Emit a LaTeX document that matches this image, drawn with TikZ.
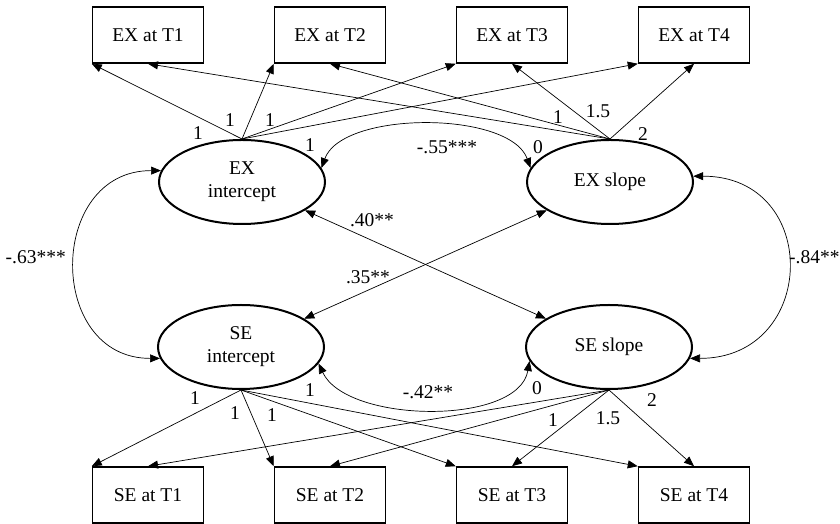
\documentclass[tikz,border=0pt]{standalone}
\usepackage{fontspec}
\setmainfont{Liberation Serif}
\usetikzlibrary{arrows.meta,shapes.geometric}
\tikzset{
  obs/.style={draw,line width=1.5pt,minimum width=111pt,minimum height=56pt,inner sep=0pt},
  latent/.style={draw,ellipse,line width=2pt,minimum width=166pt,minimum height=84pt,inner sep=0pt,align=center},
  load/.style={-{Triangle[length=10pt,width=8pt]},line width=0.7pt},
  cov/.style={{Triangle[length=10pt,width=8pt]}-{Triangle[length=10pt,width=8pt]},line width=0.7pt},
  lbl/.style={inner sep=0pt}
}
\begin{document}
\begin{tikzpicture}[x=1pt,y=1pt,font=\fontsize{19.5}{23}\selectfont]
                \useasboundingbox (0,0) rectangle (840,524);
                %% observed
                \node[obs] (ext1) at (148,489) {EX at T1};
                \node[obs] (ext2) at (330,489) {EX at T2};
                \node[obs] (ext3) at (512,489) {EX at T3};
                \node[obs] (ext4) at (694,489) {EX at T4};
                \node[obs] (set1) at (148,29) {SE at T1};
                \node[obs] (set2) at (330,29) {SE at T2};
                \node[obs] (set3) at (512,29) {SE at T3};
                \node[obs] (set4) at (694,29) {SE at T4};
                %% latent
                \node[latent] (exint) at (242,342) {EX\\intercept};
                \node[latent] (exslope) at (610,342) {EX slope};
                \node[latent] (seint) at (241,177) {SE\\intercept};
                \node[latent] (seslope) at (609,177) {SE slope};
                %% loadings
                \draw[load] (exint.north) -- (ext1.south west);
                \draw[load] (exint.north) -- (ext2.south west);
                \draw[load] (exint.north) -- (ext3.south west);
                \draw[load] (exint.north) -- (ext4.south west);
                \draw[load] (exslope.north) -- (ext1.south);
                \draw[load] (exslope.north) -- (ext2.south);
                \draw[load] (exslope.north) -- (ext3.south);
                \draw[load] (exslope.north) -- (ext4.south);
                \draw[load] (seint.south) -- (set1.north west);
                \draw[load] (seint.south) -- (set2.north west);
                \draw[load] (seint.south) -- (set3.north west);
                \draw[load] (seint.south) -- (set4.north west);
                \draw[load] (seslope.south) -- (set1.north);
                \draw[load] (seslope.south) -- (set2.north);
                \draw[load] (seslope.south) -- (set3.north);
                \draw[load] (seslope.south) -- (set4.north);
                %% covariances
                \draw[cov] (exint.10) to[out=70,in=110,looseness=0.75] (exslope.170);
                \draw[cov] (seint.348) to[out=-65,in=-100,looseness=0.8] (seslope.190);
                \draw[cov] (exint.172) to[out=180,in=180,looseness=1.55] (seint.188);
                \draw[cov] (exslope.4) to[out=0,in=0,looseness=1.8] (seslope.352);
                \draw[cov] (exint) -- (seslope);
                \draw[cov] (exslope) -- (seint);
                %% labels
                \node[lbl] (c1) at (447,377) {-.55***};
                \node[lbl] (c2) at (428,132) {-.42**};
                \node[lbl,anchor=east] (c3) at (66,267) {-.63***};
                \node[lbl,anchor=west] (c4) at (789,267) {-.84**};
                \node[lbl] (c5) at (372,304) {.40**};
                \node[lbl] (c6) at (368,247) {.35**};
                \node[lbl] (a1) at (198,391) {1};
                \node[lbl] (a2) at (230,404) {1};
                \node[lbl] (a3) at (270,404) {1};
                \node[lbl] (a4) at (310,379) {1};
                \node[lbl] (b1) at (538,377) {0};
                \node[lbl] (b2) at (558,407) {1};
                \node[lbl] (b3) at (598,413) {1.5};
                \node[lbl] (b4) at (643,390) {2};
                \node[lbl] (d1) at (195,126) {1};
                \node[lbl] (d2) at (235,111) {1};
                \node[lbl] (d3) at (272,109) {1};
                \node[lbl] (d4) at (310,134) {1};
                \node[lbl] (e1) at (537,136) {0};
                \node[lbl] (e2) at (553,104) {1};
                \node[lbl] (e3) at (608,106) {1.5};
                \node[lbl] (e4) at (652,124) {2};
            \end{tikzpicture}
\end{document}
